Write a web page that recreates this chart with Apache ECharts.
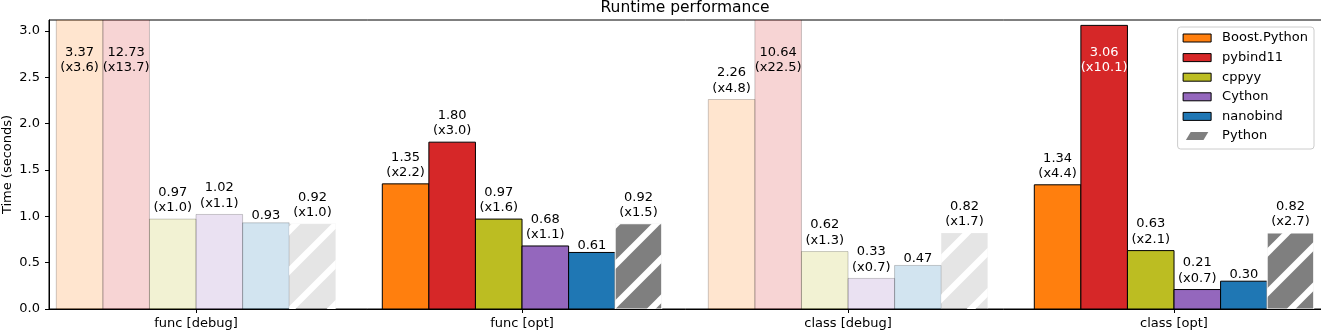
<!DOCTYPE html>
<html>
<head>
<meta charset="utf-8">
<script src="https://cdn.jsdelivr.net/npm/echarts@6/dist/echarts.min.js"></script>
<style>
html,body{margin:0;padding:0;background:#fff;}
#chart{width:1321px;height:332px;}
</style>
</head>
<body>
<div id="chart"></div>
<script>
// ---- data ----
const categories = ['func [debug]', 'func [opt]', 'class [debug]', 'class [opt]'];
const libraries = ['Boost.Python', 'pybind11', 'cppyy', 'Cython', 'nanobind', 'Python'];
const boostPython = [3.37, 1.35, 2.26, 1.34];
const pybind11 = [12.73, 1.80, 10.64, 3.06];
const cppyy = [0.97, 0.97, 0.62, 0.63];
const cython = [1.02, 0.68, 0.33, 0.21];
const nanobind = [0.93, 0.61, 0.47, 0.30];
const python = [0.92, 0.92, 0.82, 0.82];
const boostFactor = ['x3.6', 'x2.2', 'x4.8', 'x4.4'];
const pybind11Factor = ['x13.7', 'x3.0', 'x22.5', 'x10.1'];
const cppyyFactor = ['x1.0', 'x1.6', 'x1.3', 'x2.1'];
const cythonFactor = ['x1.1', 'x1.1', 'x0.7', 'x0.7'];
const nanobindFactor = [null, null, null, null];
const pythonFactor = ['x1.0', 'x1.5', 'x1.7', 'x2.7'];
const isDebug = [true, false, true, false];
const yTicks = [0, 0.5, 1.0, 1.5, 2.0, 2.5, 3.0];

const seriesValues = [boostPython, pybind11, cppyy, cython, nanobind, python];
const seriesFactors = [boostFactor, pybind11Factor, cppyyFactor, cythonFactor, nanobindFactor, pythonFactor];
const colors = ['#ff7f0e', '#d62728', '#bcbd22', '#9467bd', '#1f77b4', '#7f7f7f'];

const FONT = '"DejaVu Sans", sans-serif';
const Y_MAX = 3.118;
const INSIDE_LIMIT = 3.0;
const INSIDE_AT = 2.6;
const HATCH_PERIOD = 40;   // px, along x+y
const HATCH_HALF = 4.4;    // px, along x+y

function hatchStripes(L, T, R, B) {
  const out = [];
  const start = Math.floor((L + T) / HATCH_PERIOD) * HATCH_PERIOD;
  for (let c = start; c <= R + B + HATCH_PERIOD; c += HATCH_PERIOD) {
    const c1 = c - HATCH_HALF, c2 = c + HATCH_HALF;
    const xa = L - 60, xb = R + 60;
    out.push({
      type: 'polygon',
      shape: { points: [[xa, c1 - xa], [xb, c1 - xb], [xb, c2 - xb], [xa, c2 - xa]] },
      style: { fill: '#ffffff' }
    });
  }
  return out;
}

function renderItem(params, api) {
  const k = params.seriesIndex;
  const ci = api.value(0);
  const v = api.value(1);
  const f = seriesFactors[k][ci];
  const dbg = isDebug[ci];
  const p0 = api.coord([ci + (k - 3) / 7, 0]);
  const p1 = api.coord([ci + (k - 2) / 7, v]);
  const isPy = k === 5;
  const L = p0[0], R = p1[0], T = p1[1], B = p0[1];
  const children = [];
  if (isPy) {
    children.push({
      type: 'rect',
      shape: { x: L, y: T, width: R - L, height: B - T },
      style: { fill: colors[k], stroke: '#ffffff', lineWidth: 1, opacity: dbg ? 0.2 : 1 }
    });
    children.push({
      type: 'group',
      clipPath: { type: 'rect', shape: { x: L, y: T, width: R - L, height: B - T } },
      children: hatchStripes(L, T, R, B)
    });
  } else {
    children.push({
      type: 'rect',
      shape: { x: L, y: T, width: R - L, height: B - T },
      style: { fill: colors[k], stroke: '#000000', lineWidth: 1, opacity: dbg ? 0.2 : 1 }
    });
  }
  const cx = (L + R) / 2;
  const txt = v.toFixed(2);
  const font = '13px ' + FONT;
  if (v > INSIDE_LIMIT) {
    const yb = api.coord([0, INSIDE_AT])[1];
    const col = dbg ? '#000' : '#fff';
    children.push({ type: 'text', style: { text: txt, x: cx, y: yb - 15.5, align: 'center', verticalAlign: 'middle', font: font, fill: col } });
    children.push({ type: 'text', style: { text: '(' + f + ')', x: cx, y: yb, align: 'center', verticalAlign: 'middle', font: font, fill: col } });
  } else if (f) {
    children.push({ type: 'text', style: { text: txt, x: cx, y: T - 26.5, align: 'center', verticalAlign: 'middle', font: font, fill: '#000' } });
    children.push({ type: 'text', style: { text: '(' + f + ')', x: cx, y: T - 11.2, align: 'center', verticalAlign: 'middle', font: font, fill: '#000' } });
  } else {
    children.push({ type: 'text', style: { text: txt, x: cx, y: T - 6.7, align: 'center', verticalAlign: 'middle', font: font, fill: '#000' } });
  }
  return { type: 'group', children: children };
}

const series = libraries.map(function (name, k) {
  return {
    type: 'custom',
    name: name,
    clip: true,
    renderItem: renderItem,
    itemStyle: { color: colors[k] },
    encode: { x: 0, y: 1 },
    data: seriesValues[k].map(function (v, i) { return [i, v]; }),
    z: 2
  };
});

const legendData = libraries.map(function (name, k) {
  if (k === 5) {
    return { name: name, icon: 'path://M0,10L22,10L28,0L6,0Z', itemStyle: { color: colors[k], borderWidth: 0 } };
  }
  return { name: name, icon: 'rect', itemStyle: { color: colors[k], borderColor: '#000', borderWidth: 1 } };
});

const chart = echarts.init(document.getElementById('chart'), null, { renderer: 'canvas' });
chart.setOption({
  animation: false,
  backgroundColor: '#ffffff',
  textStyle: { fontFamily: FONT },
  title: {
    text: 'Runtime performance',
    left: 685, top: 0, padding: 0,
    textAlign: 'center',
    textStyle: { fontSize: 15.5, fontWeight: 'normal', color: '#000', fontFamily: FONT }
  },
  legend: {
    orient: 'vertical',
    right: 7, top: 27,
    itemWidth: 28, itemHeight: 8,
    itemGap: 5.6,
    padding: [4, 6, 6, 5],
    borderColor: '#cccccc', borderWidth: 1, borderRadius: 3,
    backgroundColor: 'rgba(255,255,255,0.8)',
    textStyle: { fontSize: 13, lineHeight: 14, color: '#000', fontFamily: FONT, padding: [0, 0, 0, 6] },
    selectedMode: false,
    data: legendData
  },
  grid: {
    left: 49, top: 20, right: -2, bottom: 23,
    containLabel: false,
    outerBoundsMode: 'none',
    show: true, borderColor: '#000', borderWidth: 1, backgroundColor: 'transparent'
  },
  xAxis: {
    type: 'value',
    min: -0.451, max: 3.457,
    splitLine: { show: false },
    axisLine: { show: true, onZero: false, lineStyle: { color: '#000', width: 1 } },
    axisTick: { show: true, length: 4, lineStyle: { color: '#000' }, customValues: [0, 1, 2, 3] },
    axisLabel: {
      customValues: [0, 1, 2, 3],
      formatter: function (v) { return categories[Math.round(v)]; },
      fontSize: 13, color: '#000', margin: 8, fontFamily: FONT
    }
  },
  yAxis: {
    type: 'value',
    min: 0, max: Y_MAX,
    name: 'Time (seconds)',
    nameLocation: 'middle',
    nameGap: 35,
    nameMoveOverlap: false,
    nameTextStyle: { fontSize: 13, color: '#000', fontFamily: FONT },
    splitLine: { show: false },
    axisLine: { show: true, onZero: false, lineStyle: { color: '#000', width: 1 } },
    axisTick: { show: true, length: 4, lineStyle: { color: '#000' }, customValues: yTicks },
    axisLabel: {
      customValues: yTicks,
      formatter: function (v) { return v.toFixed(1); },
      fontSize: 13, color: '#000', margin: 9, fontFamily: FONT
    }
  },
  series: series
});
</script>
</body>
</html>
